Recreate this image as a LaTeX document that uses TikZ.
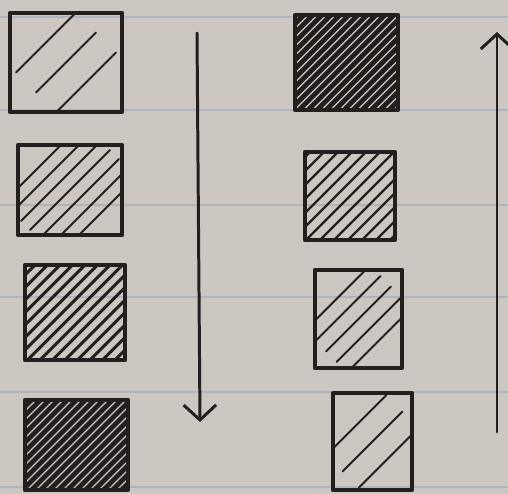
\documentclass[tikz,border=0pt]{standalone}
\usetikzlibrary{arrows.meta}
\definecolor{paper}{RGB}{204,199,193}
\definecolor{rule}{RGB}{176,179,189}
\definecolor{ink}{RGB}{36,31,31}
\tikzset{
  box/.style={draw=ink, line width=2.6pt, inner sep=0pt},
  % spacing, stroke width, number of strokes each side, half length of a stroke
  hatch/.style n args={4}{path picture={
    \foreach \k in {-#3,...,#3}
      \draw[ink, line width=#2] ([shift={({\k*#1/2},{-\k*#1/2})}]path picture bounding box.center) ++(-#4,-#4) -- ++(2*#4,2*#4);}},
  flow/.style={draw=ink, line width=1.7pt, -{Straight Barb[length=3mm, width=6.5mm]}},
}
\begin{document}
\begin{tikzpicture}[line join=round, line cap=round]
  % paper with ruled lines
  \fill[paper] (0,0) rectangle (10.16,-9.88);
  \useasboundingbox (0,0) rectangle (10.16,-9.88);
  \foreach \y in {17,110,205,297,392,487}
    \draw[rule, line width=1pt] (0,{-\y/50}) -- (10.16,{-\y/50});

  % left column: light to dark
  \node[box, minimum width=2.24cm, minimum height=1.98cm, hatch={0.8}{1.1pt}{1}{0.6}] (l1) at (1.32,-1.25) {};
  \node[box, minimum width=2.08cm, minimum height=1.80cm, hatch={0.36}{1.2pt}{3}{0.8}] (l2) at (1.40,-3.80) {};
  \node[box, minimum width=2.00cm, minimum height=1.90cm, hatch={0.25}{1.8pt}{8}{2.5}] (l3) at (1.50,-6.25) {};
  \node[box, minimum width=2.06cm, minimum height=1.80cm, hatch={0.18}{2.8pt}{14}{2.5}] (l4) at (1.53,-8.90) {};

  % right column: dark to light
  \node[box, minimum width=2.06cm, minimum height=1.90cm, hatch={0.18}{2.8pt}{14}{2.5}] (r1) at (6.93,-1.25) {};
  \node[box, minimum width=1.80cm, minimum height=1.76cm, hatch={0.28}{1.4pt}{6}{2.5}] (r2) at (7.00,-3.92) {};
  \node[box, minimum width=1.74cm, minimum height=1.96cm, hatch={0.42}{1.2pt}{2}{0.65}] (r3) at (7.17,-6.38) {};
  \node[box, minimum width=1.58cm, minimum height=1.94cm, hatch={0.65}{1.1pt}{1}{0.6}] (r4) at (7.45,-8.83) {};

  % arrows
  \coordinate (downtop) at (3.94,-0.66);
  \coordinate (downend) at (4.00,-8.44);
  \coordinate (upstart) at (9.94,-8.64);
  \coordinate (upend) at (9.94,-0.64);
  \draw[flow] (downtop) -- (downend);
  \draw[flow] (upstart) -- (upend);
\end{tikzpicture}
\end{document}
